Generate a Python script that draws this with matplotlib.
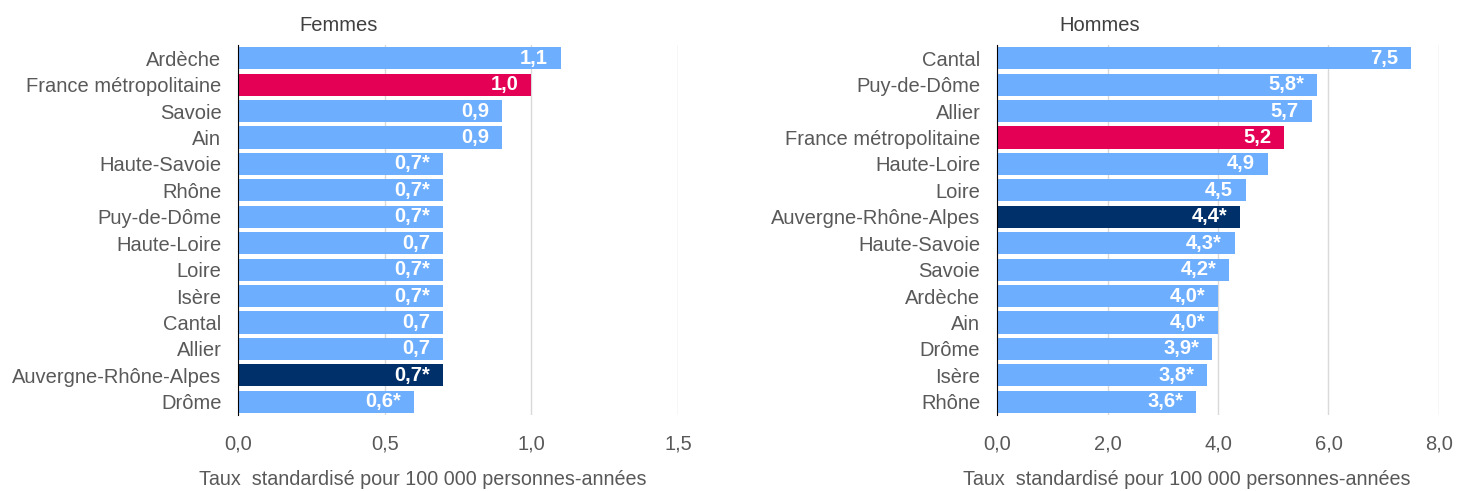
import matplotlib
matplotlib.use("Agg")
import matplotlib.pyplot as plt

plt.rcParams['font.family'] = ['Liberation Sans', 'DejaVu Sans']

# données
femmes_noms = ["Ardèche", "France métropolitaine", "Savoie", "Ain", "Haute-Savoie",
               "Rhône", "Puy-de-Dôme", "Haute-Loire", "Loire", "Isère", "Cantal",
               "Allier", "Auvergne-Rhône-Alpes", "Drôme"]
femmes_val = [1.1, 1.0, 0.9, 0.9, 0.7, 0.7, 0.7, 0.7, 0.7, 0.7, 0.7, 0.7, 0.7, 0.6]
femmes_sig = [False, False, False, False, True, True, True, False, True, True,
              False, False, True, True]

hommes_noms = ["Cantal", "Puy-de-Dôme", "Allier", "France métropolitaine", "Haute-Loire",
               "Loire", "Auvergne-Rhône-Alpes", "Haute-Savoie", "Savoie", "Ardèche",
               "Ain", "Drôme", "Isère", "Rhône"]
hommes_val = [7.5, 5.8, 5.7, 5.2, 4.9, 4.5, 4.4, 4.3, 4.2, 4.0, 4.0, 3.9, 3.8, 3.6]
hommes_sig = [False, True, False, False, False, False, True, True, True, True,
              True, True, True, True]

femmes_ticks = [0.0, 0.5, 1.0, 1.5]
hommes_ticks = [0.0, 2.0, 4.0, 6.0, 8.0]

BLEU = "#6eaeff"
ROUGE = "#e30055"
MARINE = "#00306a"
GRIS = "#595959"


def couleur(nom):
    if nom == "France métropolitaine":
        return ROUGE
    if nom == "Auvergne-Rhône-Alpes":
        return MARINE
    return BLEU


def panneau(ax, noms, vals, sig, ticks, titre, titre_x, label_x):
    y = range(len(noms))
    ax.barh(y, vals, height=0.84, color=[couleur(n) for n in noms], zorder=2)
    ax.set_ylim(len(noms) - 0.5, -0.5)
    ax.set_xlim(ticks[0], ticks[-1])
    ax.set_yticks(list(y))
    ax.set_yticklabels(noms, fontsize=14.5, color=GRIS)
    ax.set_xticks(ticks)
    ax.set_xticklabels([f"{t:.1f}".replace(".", ",") for t in ticks], fontsize=14.5, color=GRIS)
    ax.tick_params(length=0, pad=12)
    ax.tick_params(axis="x", pad=14)
    ax.xaxis.grid(True, color="#d9d9d9", linewidth=1, zorder=0)
    for s in ["top", "right", "bottom"]:
        ax.spines[s].set_visible(False)
    ax.spines["left"].set_color("black")
    ax.spines["left"].set_zorder(3)
    for i, (v, s) in enumerate(zip(vals, sig)):
        txt = f"{v:.1f}".replace(".", ",") + ("*" if s else "")
        ax.annotate(txt, (v, i), xytext=(-13, 0), textcoords="offset pixels",
                    ha="right", va="center", color="white",
                    fontsize=14.5, fontweight="bold", zorder=3)
    ax.set_title(titre, fontsize=14.5, color="#404040", loc="left", x=titre_x, pad=10)
    ax.set_xlabel("Taux  standardisé pour 100 000 personnes-années", fontsize=14.2, color=GRIS)
    ax.xaxis.set_label_coords(label_x, -0.15)


fig = plt.figure(figsize=(14.57, 4.91), dpi=100)
ax1 = fig.add_axes([0.1634, 0.1548, 0.3019, 0.7536])
ax2 = fig.add_axes([0.6843, 0.1548, 0.3033, 0.7536])

panneau(ax1, femmes_noms, femmes_val, femmes_sig, femmes_ticks, "Femmes", 0.14, 0.42)
panneau(ax2, hommes_noms, hommes_val, hommes_sig, hommes_ticks, "Hommes", 0.14, 0.43)

fig.savefig("out.png", dpi=100)
